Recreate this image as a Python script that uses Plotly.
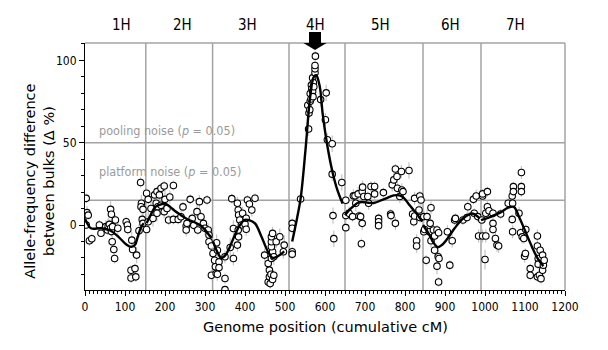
import plotly.graph_objects as go

# ---------------- data ----------------
chrom_names = ["1H", "2H", "3H", "4H", "5H", "6H", "7H"]
chrom_label_pos = [90, 243, 406, 577, 738, 914, 1075]
chrom_bounds = [152, 319, 510, 650, 845, 990]
pooling_noise = 50
platform_noise = 15
peak_pos = 575

# (position cM, delta %, error)
pts_1H = [(3,16.2,3),(5,7.5,4),(8,6,3),(3,0,2),(11,-9.6,3),(17,-8.4,3),(36,0,3),(40,-5,2),(52,-1,4),(56,-3,3),
          (58,-0.6,5),(61,0.4,3),(64,-2,4),(66,-4,3),(69,-1,3),(64,9.5,5),(66,6.5,4),(76,3,3),(68,-10.2,4),(72,-14.9,3),
          (74,-20.4,3),(82,-2,4),(103,2,3),(106,0,4),(107,-2.7,3),(117,-9.2,5),(119,-14.9,4),(115,-27.5,3),(125,-26.5,3),
          (115,-32.2,3),(127,-31.5,3),(129,-18.3,5),(135,-3.5,4),(139,25.8,3),(141,13.2,5),(140,11.1,4),(145,9.5,6),
          (143,3.4,4),(145,1,5)]
pts_2H = [(154,19.3,4),(154,-2.7,5),(158,2,6),(158,15.6,3),(165,10,4),(170,4,5),(174,18.3,4),(180,20.3,3),(186,18.3,4),
          (190,22.3,3),(198,23.7,3),(178,13.2,5),(182,11.1,4),(180,7.1,5),(190,12,3),(198,8.1,4),(200,15.6,6),(205,10,3),
          (212,17,4),(221,24,3),(209,3,3),(221,3.4,3),(233,3.4,3),(240,5,4),(245,11,3),(253,-0.6,3),(253,-3,4),(255,1,3),
          (263,15.6,3),(268,4,3),(272,-0.2,3),(280,8.1,4),(282,-3,3),(286,14.2,4),(290,5,3),(296,1,3),(300,-2,4),
          (305,15.2,3),(308,-3,4),(310,-6.1,3),(310,-10.2,4),(316,-12.8,3),(316,-30.5,3)]
pts_3H = [(320,-17.3,4),(324,-21.4,3),(326,-25.4,4),(328,-29.5,3),(329,-10.8,5),(331,-15.3,4),(335,-22.4,5),(335,-25.9,3),
          (331,-29.9,4),(350,-32.5,3),(350,-39.3,2),(350,-19.3,4),(363,-13.7,6),(367,16,3),(371,-20.4,4),(371,-2.1,5),
          (381,13.2,4),(383,9.1,3),(384,6.1,4),(387,3,3),(391,0,4),(383,-3.1,3),(384,-7.2,5),(381,-12.2,4),(394,7.1,4),
          (400,0.6,3),(403,-2.6,4),(403,4.1,3),(406,15.2,3),(411,12.8,4),(417,9.1,4),(425,16.3,3),(449,-18.3,4),
          (458,-23.4,3),(461,-27.4,4),(458,-34.6,3),(463,-35.6,3),(461,-31.5,3),(465,-29.9,4),(469,-33.1,3),(472,-30.5,3),
          (466,-20.3,4),(469,-16.3,3),(466,-13.2,3),(466,-10.2,4),(466,-7.1,3),(469,-5.1,4),(472,-19.3,5),(478,-10.2,4),
          (487,-7.1,5),(498,-12.2,6),(496,-16.3,4)]
pts_4H = [(518,1,3),(518,-2,3),(518,-16.3,3),(518,-17.7,3),(539,15.8,3),(557,72.8,4),(559,58.3,4),(560,68,3),(562,70,4),
          (563,75.2,3),(563,79.9,4),(565,76.6,3),(566,85,3),(567,82.7,4),(569,81.3,3),(569,89.4,3),(570,78,4),(571,86.4,3),
          (572,84,3),(575,92.5,3),(575,94.9,3),(575,96.9,3),(576,102.6,3),(589,76.2,4),(603,80.3,5),(601,64,4),
          (606,51.8,4),(618,49.4,5),(618,30.9,4),(620,5.7,5),(622,-8.3,5),(642,25.8,5)]
pts_5H = [(652,15,3),(652,5.7,4),(652,-1.6,3),(660,7.1,4),(669,5.1,3),(671,17.7,4),(675,17.7,3),(677,13.2,5),(683,18.9,4),
          (685,5.5,3),(689,5.1,3),(691,-11.4,3),(693,1,4),(693,20.3,4),(694,23,4),(697,17.3,3),(707,17.3,3),(709,13.2,4),
          (715,23.4,3),(724,23.4,3),(724,18.9,4),(734,4,3),(734,2,3),(734,-0.4,3),(746,19.7,3),(764,6.7,3),(765,5.7,3),
          (768,24.4,4),(772,27.4,4),(776,34,3),(776,1,4),(780,29.5,4),(781,22.3,3),(787,17.3,4),(791,32.5,4),(792,21.3,4),
          (795,20.3,3),(810,33.1,5),(819,6.7,4),(822,2,3),(824,16.2,4),(824,5.5,3),(829,-9.6,4),(829,-12.8,4),(835,9.1,4),
          (837,17.6,3),(837,4.6,3),(840,15.2,4)]
pts_6H = [(847,5.1,4),(847,-4.1,3),(849,-2.7,3),(853,-21.4,3),(855,5.1,4),(861,-4.1,3),(863,1,5),(865,10.5,4),(865,-9.6,4),
          (871,-3,3),(874,-6.7,4),(874,-15.3,4),(880,-3,3),(880,-25,5),(883,-19.3,4),(884,-4.7,3),(884,-34.6,3),
          (885,-20.4,4),(906,-4.1,4),(912,-24.4,3),(918,-9.6,4),(924,3,3),(926,4,3),(945,3,3),(955,4.6,3),(957,11.1,4),
          (971,15.6,3),(973,7.1,3),(978,17.6,4),(982,5.1,3),(984,-6.7,4)]
pts_7H = [(992,3,3),(994,17.6,3),(994,18.9,3),(994,-6.7,4),(1000,-21,6),(1002,7.1,4),(1002,-6.7,4),(1006,20.3,3),
          (1006,11.1,4),(1010,8.7,3),(1020,7.1,3),(1020,1,4),(1020,-2.7,3),(1026,-8.2,5),(1030,-12.2,4),(1034,-12.8,4),
          (1039,6.7,3),(1058,13.2,3),(1068,17.6,4),(1068,3.4,3),(1069,13.2,3),(1069,-4.1,4),(1071,23.3,3),(1071,20.3,3),
          (1085,7.1,4),(1089,-4.7,3),(1091,31.9,4),(1091,23.3,3),(1091,20.3,3),(1093,-7.2,4),(1097,-8.2,3),(1099,-19,4),
          (1101,-17.3,3),(1102,-2.7,3),(1113,-26.5,3),(1113,-30.5,3),(1131,-6.7,4),(1131,-12.8,4),(1131,-31.5,3),
          (1133,-20.4,4),(1133,-23.8,3),(1136,-30.5,3),(1138,-15.3,3),(1140,-32.6,3),(1144,-27.5,3),(1144,-18.3,3),
          (1146,-24.4,3),(1148,-21.4,3)]

# smoothed (loess) curves per chromosome
fit_1H = [(0,4),(15,-2),(40,-2),(64,-3.5),(85,-7.5),(104,-12),(116,-13.3),(125,-12),(132,-7),(140,-1.5),(147,1)]
fit_2H = [(154,1),(165,6.5),(176,11),(190,12.5),(200,13),(213,11),(225,8.5),(240,6),(256,3.5),(275,1.5),(290,-0.5),
          (302,-3.5),(310,-6),(317,-8)]
fit_3H = [(320,-10),(330,-16),(341,-20),(352,-18),(361,-14),(373,-7),(385,-1),(398,3),(410,3),(425,1),(441,-7),
          (457,-16),(469,-20),(482,-19),(498,-16)]
fit_4H = [(518,-10),(530,4),(539,16),(551,45),(563,78),(572,90),(578,91),(587,84),(594,68),(606,48),(618,33),
          (630,22),(644,13)]
fit_5H = [(650,6),(660,9),(669,11),(682,13.5),(693,14),(708,13.5),(724,13.5),(740,15),(756,16.5),(772,18),(786,18),
          (797,16.5),(810,12.5),(820,9.5),(829,7),(843,2)]
fit_6H = [(845,0),(861,-6),(872,-11),(882,-13.5),(893,-12),(904,-9),(924,-2),(943,3.5),(967,7),(987,4)]
fit_7H = [(990,3),(1014,5),(1038,7.5),(1058,10.5),(1072,11),(1085,5),(1101,-4),(1117,-13),(1132,-20.5),(1146,-25)]

all_pts = [pts_1H, pts_2H, pts_3H, pts_4H, pts_5H, pts_6H, pts_7H]
all_fits = [fit_1H, fit_2H, fit_3H, fit_4H, fit_5H, fit_6H, fit_7H]

FONT_C = "DejaVu Sans Condensed, DejaVu Sans, sans-serif"
FONT = "DejaVu Sans, sans-serif"
GRID = "#a3a3a3"

fig = go.Figure()

for pts in all_pts:
    fig.add_trace(go.Scatter(
        x=[p[0] for p in pts], y=[p[1] for p in pts], mode="markers",
        error_y=dict(type="data", array=[p[2] for p in pts], color="#c4c4c4", thickness=1.2, width=0),
        marker=dict(symbol="circle", size=6.5, color="white", line=dict(color="black", width=1.1)),
        showlegend=False, hoverinfo="skip"))

for fit in all_fits:
    fig.add_trace(go.Scatter(
        x=[p[0] for p in fit], y=[p[1] for p in fit], mode="lines",
        line=dict(color="black", width=2.4, shape="spline", smoothing=1.0),
        showlegend=False, hoverinfo="skip"))

shapes = []
for b in chrom_bounds:
    shapes.append(dict(type="line", xref="x", yref="paper", x0=b, x1=b, y0=0, y1=1,
                       line=dict(color=GRID, width=1.5), layer="below"))
for h in (pooling_noise, platform_noise):
    shapes.append(dict(type="line", xref="paper", yref="y", x0=0, x1=1, y0=h, y1=h,
                       line=dict(color=GRID, width=1.5), layer="below"))
# top and right frame
shapes.append(dict(type="line", xref="paper", yref="paper", x0=0, x1=1, y0=1, y1=1,
                   line=dict(color=GRID, width=1.5)))
shapes.append(dict(type="line", xref="paper", yref="paper", x0=1, x1=1, y0=0, y1=1,
                   line=dict(color=GRID, width=1.5)))
# black arrow above the 4H peak
sw, hw = 15, 29
shapes.append(dict(type="path", xref="x", yref="paper",
                   path=f"M {peak_pos-sw},1.045 L {peak_pos+sw},1.045 L {peak_pos+sw},1.0 L {peak_pos+hw},1.0 "
                        f"L {peak_pos},0.972 L {peak_pos-hw},1.0 L {peak_pos-sw},1.0 Z",
                   fillcolor="black", line=dict(color="black", width=0)))

annotations = []
for name, pos in zip(chrom_names, chrom_label_pos):
    annotations.append(dict(x=pos, y=1.073, xref="x", yref="paper", text=name, showarrow=False,
                            font=dict(family=FONT_C, size=15, color="black"), xanchor="center", yanchor="middle"))
annotations.append(dict(x=30, y=57.5, xref="x", yref="y", text="pooling noise (<i>p</i> = 0.05)", showarrow=False,
                        font=dict(family=FONT_C, size=12.5, color="#9a9a9a"), xanchor="left", yanchor="middle"))
annotations.append(dict(x=30, y=32.8, xref="x", yref="y", text="platform noise (<i>p</i> = 0.05)", showarrow=False,
                        font=dict(family=FONT_C, size=12.5, color="#9a9a9a"), xanchor="left", yanchor="middle"))
annotations.append(dict(x=-0.095, y=0.44, xref="paper", yref="paper",
                        text="Allele-frequency difference<br>between bulks (Δ %)", showarrow=False, textangle=-90,
                        font=dict(family=FONT, size=14.5, color="black"), xanchor="center", yanchor="middle"))
annotations.append(dict(x=0.5, y=-0.15, xref="paper", yref="paper", text="Genome position (cumulative cM)",
                        showarrow=False, font=dict(family=FONT, size=14.5, color="black"),
                        xanchor="center", yanchor="middle"))

fig.update_layout(
    width=608, height=350,
    margin=dict(l=85, r=43, t=43, b=60),
    paper_bgcolor="white", plot_bgcolor="white",
    shapes=shapes, annotations=annotations,
    font=dict(family=FONT_C, size=12, color="black"),
    xaxis=dict(range=[0, 1200], tickvals=list(range(0, 1201, 100)), showgrid=False, zeroline=False,
               showline=True, linecolor="black", linewidth=1.2, ticks="outside", ticklen=5, tickwidth=1,
               tickcolor="black", tickfont=dict(family=FONT_C, size=12),
               minor=dict(dtick=10, ticks="outside", ticklen=3, tickcolor="black", tickwidth=1, showgrid=False)),
    yaxis=dict(range=[-39.5, 110.6], tickvals=[0, 50, 100], showgrid=False, zeroline=False,
               showline=True, linecolor="black", linewidth=1.2, ticks="outside", ticklen=5, tickwidth=1,
               tickcolor="black", tickfont=dict(family=FONT_C, size=12),
               minor=dict(dtick=10, ticks="outside", ticklen=3, tickcolor="black", tickwidth=1, showgrid=False)),
)

fig.write_html("out.html")
